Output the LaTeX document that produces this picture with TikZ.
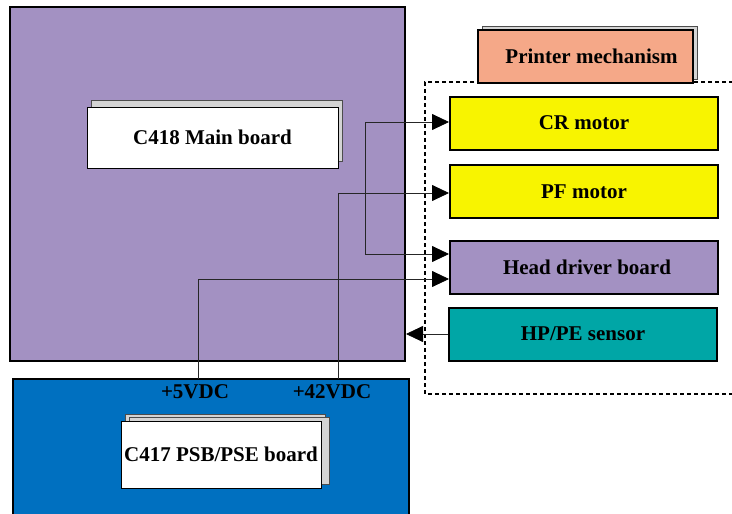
\documentclass[tikz,border=0pt]{standalone}
\usepackage{fontspec}
\setmainfont{Liberation Serif}
\usepackage{xcolor}
\definecolor{boardpurple}{RGB}{163,145,194}
\definecolor{psbblue}{RGB}{0,112,192}
\definecolor{sensorteal}{RGB}{0,166,166}
\definecolor{motoryellow}{RGB}{248,244,0}
\definecolor{mechsalmon}{RGB}{245,168,136}
\definecolor{shadowgrey}{RGB}{212,212,212}
\usepackage{tikz}
\usetikzlibrary{positioning,arrows.meta,shadows,calc}

\tikzset{
	board/.style={draw=black, line width=2pt, inner sep=0pt},
	unitbox/.style={draw=black, line width=2pt, minimum width=268pt, minimum height=53pt, inner sep=0pt},
	tagbox/.style={draw=black, fill=white, line width=0.8pt, inner sep=0pt,
		copy shadow={shadow xshift=4pt, shadow yshift=7pt, fill=shadowgrey, draw=black!70}},
	wire/.style={draw=black!85, line width=0.8pt},
	bigtip/.tip={Triangle[length=17pt,width=16pt,color=black]},
	tip/.style={-bigtip},
	bigtext/.style={font=\fontsize{21}{24}\selectfont\bfseries}
}

\begin{document}
\begin{tikzpicture}[x=1pt,y=-1pt]
	\useasboundingbox (0,0) rectangle (732,514);
	
	% draw boards
	\node[board, fill=boardpurple, minimum width=395pt, minimum height=354pt] (main) at (207.5,184) {};
	\node[board, fill=psbblue, minimum width=396pt, minimum height=150pt] (psb) at (211,454) {};
	
	% dashed printer mechanism frame
	\draw[line width=1.2pt, dash pattern=on 4pt off 3pt] (740,82) -- (425,82) -- (425,394) -- (740,394);
	
	% draw labels of the boards
	\node[tagbox, minimum width=251pt, minimum height=61pt, bigtext] (mainlbl) at (212.5,137.5) {C418 Main board};
	\node[tagbox, minimum width=200pt, minimum height=67pt, bigtext,
		copy shadow={shadow xshift=8pt, shadow yshift=4pt, fill=shadowgrey, draw=black!70}] (psblbl) at (221,454.5) {C417 PSB/PSE board};
	\node[board, fill=mechsalmon, minimum width=215pt, minimum height=53pt, bigtext,
		copy shadow={shadow xshift=4pt, shadow yshift=4pt, fill=shadowgrey, draw=black!70, line width=1pt}] (mech) at (585.5,56.5) {\hspace*{12pt}Printer mechanism};
	
	% draw units
	\node[unitbox, fill=motoryellow, bigtext] (cr) at (584,123) {CR motor};
	\node[unitbox, fill=motoryellow, bigtext] (pf) at (584,191.5) {PF motor};
	\node[unitbox, fill=boardpurple, bigtext] (hd) at (584,267.5) {\hspace*{6pt}Head driver board};
	\node[unitbox, fill=sensorteal, bigtext] (hp) at (583,334) {HP/PE sensor};
	
	% supply points
	\coordinate (v5) at (198,379);
	\coordinate (v42) at (338,379);
	\node[bigtext] (v5lbl) at (195,392) {+5VDC};
	\node[bigtext] (v42lbl) at (332,392) {+42VDC};
	
	% draw connectors
	\draw[wire, bigtip-bigtip]
		([yshift=1pt]cr.west) -- ++(-84,0) |- ([yshift=13.5pt]hd.west);
	\draw[wire, tip] (v42) |- ([yshift=-1.5pt]pf.west);
	\draw[wire, tip] (v5) |- ([yshift=-11.5pt]hd.west);
	\draw[wire, tip] (hp.west) -- (hp.west -| main.east);
	
\end{tikzpicture}
\end{document}
